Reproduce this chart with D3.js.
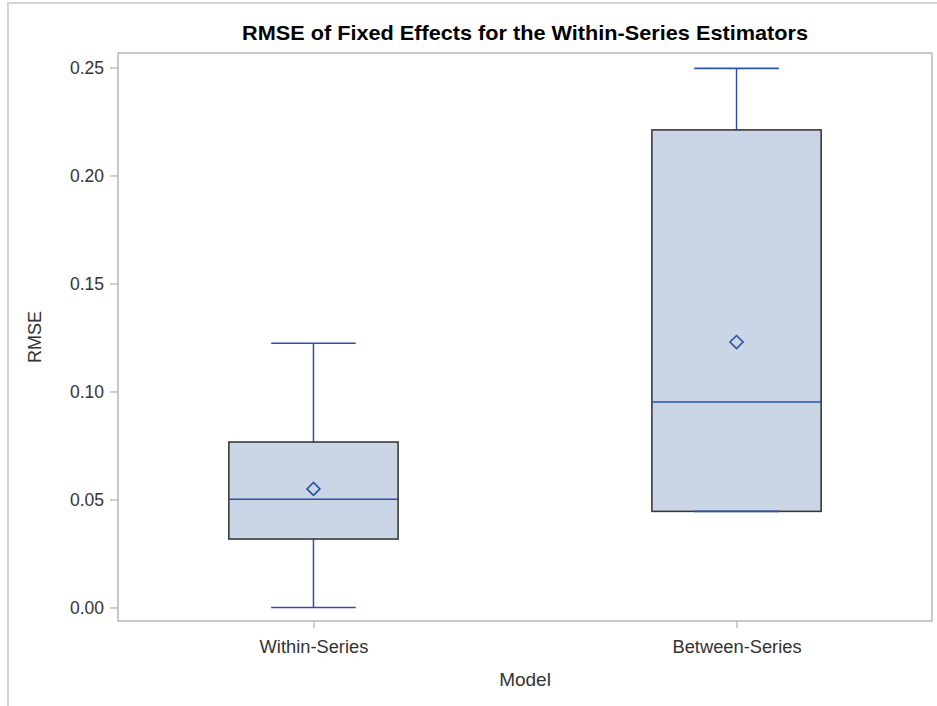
<!DOCTYPE html>
<html>
<head>
<meta charset="utf-8">
<script src="https://cdn.jsdelivr.net/npm/d3@7"></script>
<style>
  body { margin: 0; background: #fff; }
  svg { display: block; font-family: "Liberation Sans", Arial, sans-serif; }
</style>
</head>
<body>
<div id="chart"></div>
<script>
// box plot summaries
const categories = ["Within-Series", "Between-Series"];
const whiskerLow = [0.0, 0.0445];
const q1 = [0.0317, 0.0445];
const median = [0.0501, 0.0951];
const q3 = [0.0766, 0.2211];
const whiskerHigh = [0.1223, 0.2496];
const means = [0.0549, 0.1229];
const yTicks = [0, 0.05, 0.10, 0.15, 0.20, 0.25];

const W = 937, H = 706;
const frame = {left: 118, right: 932, top: 53, bottom: 621};

const svg = d3.select("#chart").append("svg")
    .attr("width", W)
    .attr("height", H);

// outer light border
svg.append("rect")
    .attr("x", 8).attr("y", 3)
    .attr("width", W + 20).attr("height", H + 20)
    .attr("fill", "none")
    .attr("stroke", "#d4d4d4")
    .attr("stroke-width", 2);

const x = d3.scalePoint()
    .domain(categories)
    .range([frame.left, frame.right])
    .padding(0.462);

const y = d3.scaleLinear()
    .domain([-0.00625, 0.2567])
    .range([frame.bottom, frame.top]);

const step = x.step();
const boxW = step * 0.4;
const capW = step * 0.2;
const blue = "#2a52a8";

const data = categories.map((c, i) => ({
    cat: c, lo: whiskerLow[i], q1: q1[i], med: median[i], q3: q3[i], hi: whiskerHigh[i], mean: means[i]
}));

// title
svg.append("text")
    .attr("x", (frame.left + frame.right) / 2)
    .attr("y", 40)
    .attr("text-anchor", "middle")
    .attr("font-size", 21)
    .attr("font-weight", "bold")
    .attr("fill", "#000")
    .attr("textLength", 566)
    .attr("lengthAdjust", "spacingAndGlyphs")
    .text("RMSE of Fixed Effects for the Within-Series Estimators");

// axes
const yAxis = svg.append("g")
    .attr("transform", `translate(${frame.left},0)`)
    .call(d3.axisLeft(y).tickValues(yTicks).tickFormat(d3.format(".2f")).tickSize(8).tickPadding(6));
const xAxis = svg.append("g")
    .attr("transform", `translate(0,${frame.bottom})`)
    .call(d3.axisBottom(x).tickSize(7).tickPadding(12));

[yAxis, xAxis].forEach(a => {
    a.select(".domain").remove();
    a.selectAll(".tick line").attr("stroke", "#a0a0a0");
    a.selectAll(".tick text")
        .attr("font-family", "'Liberation Sans', Arial, sans-serif")
        .attr("fill", "#333");
});
yAxis.selectAll(".tick text").attr("font-size", 17.5);
xAxis.selectAll(".tick text").attr("font-size", 18.3);

// plot frame
svg.append("rect")
    .attr("x", frame.left).attr("y", frame.top)
    .attr("width", frame.right - frame.left)
    .attr("height", frame.bottom - frame.top)
    .attr("fill", "none")
    .attr("stroke", "#a6a6a6")
    .attr("stroke-width", 1.2);

// axis labels
svg.append("text")
    .attr("x", (frame.left + frame.right) / 2)
    .attr("y", 686)
    .attr("text-anchor", "middle")
    .attr("font-size", 19)
    .attr("fill", "#333")
    .text("Model");

svg.append("text")
    .attr("transform", `translate(41,${(frame.top + frame.bottom) / 2}) rotate(-90)`)
    .attr("text-anchor", "middle")
    .attr("font-size", 18)
    .attr("fill", "#333")
    .text("RMSE");

// boxes
const g = svg.selectAll(".box").data(data).enter()
    .append("g").attr("class", "box");

// whiskers
g.append("line")
    .attr("x1", d => x(d.cat)).attr("x2", d => x(d.cat))
    .attr("y1", d => y(d.hi)).attr("y2", d => y(d.q3))
    .attr("stroke", blue).attr("stroke-width", 1.5);
g.append("line")
    .attr("x1", d => x(d.cat)).attr("x2", d => x(d.cat))
    .attr("y1", d => y(d.q1)).attr("y2", d => y(d.lo))
    .attr("stroke", blue).attr("stroke-width", 1.5);

g.append("rect")
    .attr("x", d => x(d.cat) - boxW / 2)
    .attr("y", d => y(d.q3))
    .attr("width", boxW)
    .attr("height", d => y(d.q1) - y(d.q3))
    .attr("fill", "#cad5e5")
    .attr("stroke", "#3a3a3a")
    .attr("stroke-width", 1.6);

// caps
g.append("line")
    .attr("x1", d => x(d.cat) - capW / 2).attr("x2", d => x(d.cat) + capW / 2)
    .attr("y1", d => y(d.hi)).attr("y2", d => y(d.hi))
    .attr("stroke", blue).attr("stroke-width", 1.6);
g.append("line")
    .attr("x1", d => x(d.cat) - capW / 2).attr("x2", d => x(d.cat) + capW / 2)
    .attr("y1", d => y(d.lo)).attr("y2", d => y(d.lo))
    .attr("stroke", blue).attr("stroke-width", 1.6);

// median
g.append("line")
    .attr("x1", d => x(d.cat) - boxW / 2).attr("x2", d => x(d.cat) + boxW / 2)
    .attr("y1", d => y(d.med)).attr("y2", d => y(d.med))
    .attr("stroke", blue).attr("stroke-width", 1.5);

// mean diamond
g.append("path")
    .attr("transform", d => `translate(${x(d.cat)},${y(d.mean)})`)
    .attr("d", "M0,-6.5L6.5,0L0,6.5L-6.5,0Z")
    .attr("fill", "none")
    .attr("stroke", blue)
    .attr("stroke-width", 1.6);
</script>
</body>
</html>
